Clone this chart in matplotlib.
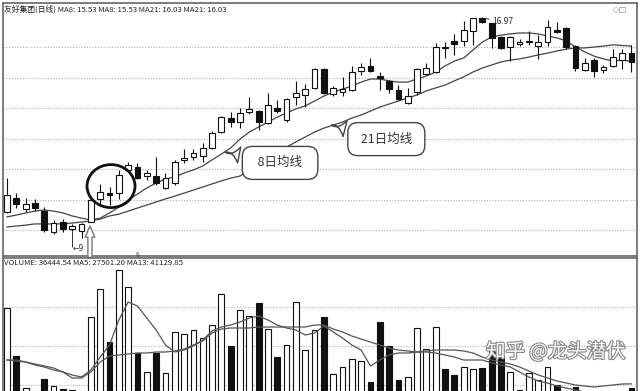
import matplotlib.pyplot as plt
import numpy as np
from matplotlib.patches import Ellipse
import matplotlib.patheffects as pe

plt.rcParams['font.family'] = ['Noto Sans CJK SC', 'DejaVu Sans']

# 日线数据 (友好集团)
open_ = [10.59, 11.05, 10.69, 10.89, 10.62, 9.93, 10.26, 10.03, 9.97, 10.26,
         11.02, 11.21, 11.21, 11.97, 12.07, 11.77, 11.77, 11.38, 11.54, 12.30,
         12.39, 12.43, 12.69, 13.21, 13.67, 13.54, 13.87, 13.90, 13.51, 14.00,
         13.61, 14.36, 14.43, 14.66, 15.28, 14.46, 14.52, 14.59, 15.21, 15.38,
         15.05, 14.89, 14.59, 14.16, 14.52, 15.11, 15.18, 16.00, 16.20, 16.20,
         16.52, 16.95, 16.79, 16.33, 16.00, 16.10, 16.16, 16.03, 16.16, 16.56,
         16.62, 16.03, 15.25, 15.57, 15.25, 15.38, 15.57, 15.80]
close = [11.15, 10.85, 10.85, 10.72, 10.00, 10.23, 10.03, 10.13, 10.20, 10.98,
         11.25, 11.15, 11.80, 12.13, 11.70, 11.87, 11.54, 11.70, 12.23, 12.36,
         12.52, 12.69, 13.18, 13.70, 13.54, 13.84, 13.97, 13.54, 14.10, 13.90,
         14.30, 14.49, 14.62, 15.28, 14.49, 14.66, 14.62, 15.18, 15.34, 15.21,
         14.98, 14.62, 14.30, 14.39, 15.28, 15.31, 16.00, 15.97, 16.10, 16.56,
         16.95, 16.82, 16.30, 15.97, 16.33, 16.16, 16.20, 16.16, 16.66, 16.49,
         16.00, 15.31, 15.48, 15.21, 15.34, 15.67, 15.80, 15.51]
high = [11.70, 11.21, 11.05, 11.02, 10.75, 10.33, 10.36, 10.20, 10.23, 10.98,
        11.51, 11.41, 11.97, 12.23, 12.20, 11.97, 12.39, 11.87, 12.30, 12.66,
        12.66, 12.85, 13.25, 13.74, 13.87, 14.00, 14.36, 13.93, 14.49, 14.26,
        14.33, 14.89, 14.79, 15.31, 15.31, 14.72, 15.02, 15.38, 15.48, 15.64,
        15.18, 14.92, 14.75, 14.66, 15.31, 15.48, 16.13, 16.16, 16.43, 16.85,
        16.96, 16.97, 16.79, 16.36, 16.36, 16.26, 16.52, 16.39, 16.90, 16.82,
        16.66, 16.07, 15.64, 15.64, 15.41, 15.93, 15.93, 16.07]
low = [10.56, 10.72, 10.59, 10.62, 9.93, 9.87, 9.93, 9.97, 9.74, 10.26,
       10.82, 10.82, 11.02, 11.93, 11.67, 11.64, 11.48, 11.34, 11.48, 12.20,
       12.30, 12.23, 12.66, 13.18, 13.38, 13.34, 13.80, 13.28, 13.48, 13.84,
       13.54, 14.10, 14.03, 14.62, 14.46, 14.39, 14.39, 14.56, 15.08, 15.18,
       14.59, 14.49, 14.26, 14.13, 14.43, 15.08, 15.15, 15.64, 15.74, 16.03,
       16.07, 16.79, 15.97, 15.93, 15.54, 16.03, 16.07, 15.61, 16.03, 16.46,
       15.93, 15.21, 15.21, 15.02, 15.15, 15.34, 15.28, 15.18]
ma8 = [10.43, 10.49, 10.56, 10.62, 10.66, 10.62, 10.56, 10.46, 10.39, 10.33,
       10.39, 10.56, 10.75, 10.98, 11.18, 11.38, 11.54, 11.67, 11.74, 11.87,
       11.97, 12.10, 12.30, 12.49, 12.69, 12.98, 13.21, 13.38, 13.54, 13.70,
       13.84, 13.97, 14.07, 14.23, 14.39, 14.52, 14.62, 14.72, 14.85, 14.95,
       14.95, 14.89, 14.85, 14.85, 14.95, 15.05, 15.18, 15.38, 15.54, 15.64,
       15.90, 16.16, 16.33, 16.39, 16.43, 16.46, 16.46, 16.43, 16.36, 16.30,
       16.20, 16.00, 15.84, 15.70, 15.61, 15.54, 15.57, 15.53]
ma21 = [10.10, 10.13, 10.16, 10.20, 10.20, 10.20, 10.20, 10.23, 10.26, 10.30,
        10.36, 10.46, 10.52, 10.62, 10.72, 10.82, 10.92, 11.02, 11.11, 11.21,
        11.31, 11.41, 11.51, 11.61, 11.70, 11.77, 11.97, 12.16, 12.36, 12.56,
        12.72, 12.89, 13.05, 13.21, 13.34, 13.44, 13.54, 13.67, 13.77, 13.90,
        14.03, 14.13, 14.23, 14.33, 14.43, 14.56, 14.66, 14.75, 14.89, 15.02,
        15.18, 15.31, 15.41, 15.51, 15.57, 15.61, 15.67, 15.74, 15.80, 15.87,
        15.93, 15.97, 15.97, 16.00, 16.03, 16.07, 16.05, 16.03]

# 成交量
volume = [118970, 69740, 36920, 28720, 46150, 38970, 35900, 35000, 26670, 109740,
          138460, 84100, 157940, 140510, 72820, 53330, 72820, 52310, 94360, 92300,
          96410, 88200, 101530, 133330, 80000, 116920, 110770, 124100, 97430, 68720,
          81020, 125120, 75890, 96410, 109740, 51280, 58460, 66660, 64610, 43080,
          104610, 80000, 45130, 48200, 98460, 76920, 99480, 56410, 50250, 58460,
          56410, 57430, 75890, 69740, 53330, 34870, 52310, 45130, 58460, 40000,
          29740, 37950, 29740, 24610, 26670, 28720, 32820, 36444.54]
vol_ma5 = [65640, 64610, 63590, 60510, 58460, 55380, 53330, 50250, 48200, 55380,
           68720, 81020, 106660, 125120, 121020, 108710, 96410, 81020, 73840, 75890,
           80000, 86150, 95380, 99480, 101530, 104610, 108710, 110770, 106660, 101530,
           98460, 96410, 91280, 93330, 100510, 94360, 88200, 81020, 75890, 59480,
           65640, 70770, 72820, 72820, 73840, 73840, 72820, 70770, 68720, 65640,
           65640, 65640, 62560, 60510, 58460, 53330, 48200, 44100, 42050, 38970,
           36920, 34870, 32820, 29740, 28720, 27690, 27690, 27501.20]
vol_ma13 = [65640, 65640, 63590, 61540, 59480, 57430, 53330, 47180, 47180, 53330,
            63590, 69740, 70770, 71790, 72820, 72820, 73840, 73840, 74870, 76920,
            81020, 85120, 93330, 97430, 98460, 98460, 98460, 99480, 99480, 99480,
            99480, 99480, 99480, 101530, 101530, 97430, 94360, 90250, 87180, 84100,
            81020, 77950, 75890, 74870, 73840, 74870, 75890, 75890, 75890, 74870,
            72820, 68720, 65640, 63590, 61540, 58460, 54360, 50250, 47180, 44100,
            42050, 40000, 38970, 37950, 38970, 40000, 41020, 41129.85]

price_grid = [10, 11, 12, 13, 14, 15, 16]
vol_grid = [40000, 80000, 120000]
title = '友好集团(日线) MA8: 15.53 MA8: 15.53 MA21: 16.03 MA21: 16.03'
vol_title = 'VOLUME: 36444.54 MA5: 27501.20 MA13: 41129.85'

o = np.array(open_); c = np.array(close)
x = np.arange(len(c))
up = c >= o
fc = np.where(up, 'white', '#111111')
ink = '#111111'

fig = plt.figure(figsize=(6.4, 3.91), dpi=100)
ax = fig.add_axes([3/640, 135/391, 634/640, 253/391])
axv = fig.add_axes([3/640, -33/391, 634/640, 166/391])

for a in (ax, axv):
    a.set_xlim(-0.43, 67.6)
    a.set_xticks([]); a.set_yticks([])
    for s in a.spines.values():
        s.set_color('#666'); s.set_linewidth(1.2)

# 价格
ax.set_ylim(9.148, 17.443)
for g in price_grid:
    ax.axhline(g, color='#b0b0b0', lw=0.8, ls=(0, (1, 1.5)), zorder=0)
ax.plot(x, ma21, color='#444', lw=0.9, zorder=1)
ax.plot(x, ma8, color='#444', lw=0.9, zorder=1)
ax.vlines(x, low, high, color=ink, lw=0.8, zorder=2)
ax.bar(x, np.maximum(np.abs(c - o), 0.025), bottom=np.minimum(o, c), width=0.62,
       color=fc, edgecolor=ink, lw=0.8, zorder=3)

ax.text(0.002, 0.976, title, transform=ax.transAxes, fontsize=5.6, color='#222',
        ha='left', va='center')
ax.text(0.985, 0.976, '◇□', transform=ax.transAxes, fontsize=6, color='#888',
        ha='right', va='center', family='DejaVu Sans')

# 最高价标记
ax.annotate('16.97', xy=(51.4, 16.93), xytext=(52.05, 16.85), fontsize=6, color='#222',
            va='center', ha='left',
            arrowprops=dict(arrowstyle='-', lw=0.6, color='#222', shrinkA=0, shrinkB=0))

# 圈和箭头
ax.add_patch(Ellipse((11.16, 11.44), 5.15, 1.41, fill=False, lw=2, ec=ink, zorder=4))
ax.annotate('', xy=(8.9, 10.13), xytext=(8.9, 9.1),
            arrowprops=dict(arrowstyle='simple,head_length=0.8,head_width=0.7,tail_width=0.3',
                            fc='white', ec='#777', lw=1, mutation_scale=10,
                            shrinkA=0, shrinkB=0), zorder=4)
ax.vlines(7.0, low[7], 9.44, color='#333', lw=0.7)
ax.text(7.05, 9.41, '←9', fontsize=5.5, color='#333', va='center', ha='left',
        family='DejaVu Sans')
ax.text(14, 9.22, '§', fontsize=5, color='#333', ha='center', va='center',
        family='DejaVu Sans')

# 均线说明
bub = dict(boxstyle='round,pad=0.8', fc='white', ec='#444', lw=1)
ax.annotate('  8日均线  ', xy=(23.4, (ma8[23] + ma8[24]) / 2 - 0.04), xytext=(29.3, 12.2),
            ha='center', va='center', fontsize=9, color='#333', bbox=bub,
            arrowprops=dict(arrowstyle='wedge,tail_width=1.3,shrink_factor=0.05',
                            fc='white', ec='#444', lw=1, shrinkB=0), zorder=5)
ax.annotate(' 21日均线 ', xy=(34.8, ma21[35]), xytext=(40.7, 12.98),
            ha='center', va='center', fontsize=9, color='#333', bbox=bub,
            arrowprops=dict(arrowstyle='wedge,tail_width=1.3,shrink_factor=0.05',
                            fc='white', ec='#444', lw=1, shrinkB=0), zorder=5)

# 成交量
axv.set_ylim(0, 170250)
for g in vol_grid:
    axv.axhline(g, color='#b0b0b0', lw=0.8, ls=(0, (1, 1.5)), zorder=0)
axv.bar(x, volume, width=0.62, color=fc, edgecolor=ink, lw=0.8, zorder=2)
axv.plot(x, vol_ma5, color='#555', lw=0.9, zorder=3)
axv.plot(x, vol_ma13, color='#555', lw=0.9, zorder=3)
axv.text(0.002, 0.97, vol_title, transform=axv.transAxes, fontsize=5.6, color='#222',
         ha='left', va='center')

fig.text(556/640, 39/391, '知乎 @龙头潜伏', fontsize=14, color='white', ha='center',
         va='center', path_effects=[pe.withStroke(linewidth=1.6, foreground='#888')])

fig.savefig('out.png', dpi=100)
